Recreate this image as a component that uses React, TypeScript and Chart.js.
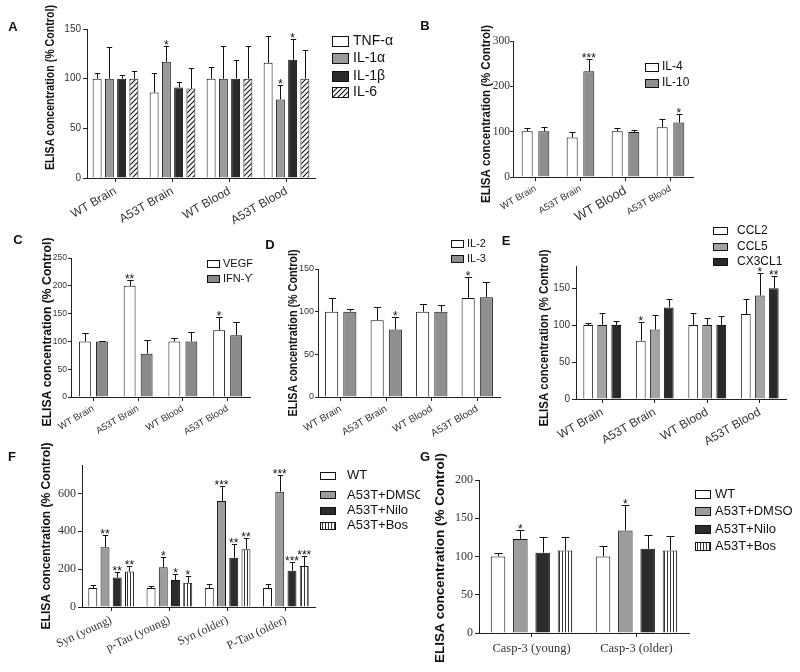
import React, { useEffect, useRef } from 'react';
import { Chart, registerables } from 'chart.js';

Chart.register(...registerables);

const SANS = '"Liberation Sans", Arial, Helvetica, sans-serif';
const SERIF = '"Liberation Serif", "Times New Roman", serif';
const AXIS = '#222222';
const TICK = '#333333';
const INK = '#111111';

// ---------- DATA ----------
const brainBloodLabels = ['WT Brain', 'A53T Brain', 'WT Blood', 'A53T Blood'];

// Panel A
const aTnf = [100, 86, 100, 116];
const aTnfSem = [6, 20, 12, 27];
const aTnfSig = ['', '', '', ''];
const aIl1a = [100, 117, 100, 79];
const aIl1aSem = [32, 16, 33, 15];
const aIl1aSig = ['', '*', '', '*'];
const aIl1b = [100, 91, 100, 119];
const aIl1bSem = [4, 6, 19, 21];
const aIl1bSig = ['', '', '', '*'];
const aIl6 = [100, 90, 100, 100];
const aIl6Sem = [8, 21, 33, 29];
const aIl6Sig = ['', '', '', ''];

// Panel B
const bIl4 = [101, 87, 101, 110];
const bIl4Sem = [7, 12, 6, 19];
const bIl4Sig = ['', '', '', ''];
const bIl10 = [101, 233, 99, 120];
const bIl10Sem = [9, 27, 5, 20];
const bIl10Sig = ['', '***', '', '*'];

// Panel C
const cVegf = [100, 200, 100, 120];
const cVegfSem = [16, 11, 7, 23];
const cVegfSig = ['', '**', '', '*'];
const cIfn = [100, 78, 100, 111];
const cIfnSem = [1.5, 24, 17, 24];
const cIfnSig = ['', '', '', ''];

// Panel D
const dIl2 = [100, 90, 100, 116];
const dIl2Sem = [16, 15, 9, 25];
const dIl2Sig = ['', '', '', '*'];
const dIl3 = [100, 79, 100, 117];
const dIl3Sem = [3, 15, 8, 18];
const dIl3Sig = ['', '*', '', ''];

// Panel E
const eCcl2 = [100, 79, 100, 115];
const eCcl2Sem = [3, 25, 17, 21];
const eCcl2Sig = ['', '*', '', ''];
const eCcl5 = [100, 94, 100, 140];
const eCcl5Sem = [16, 20, 9, 30];
const eCcl5Sig = ['', '', '', '*'];
const eCx3 = [100, 124, 100, 150];
const eCx3Sem = [6, 11, 12, 16];
const eCx3Sig = ['', '', '', '**'];

// Panel F
const fLabels = ['Syn (young)', 'p-Tau (young)', 'Syn (older)', 'P-Tau (older)'];
const fWt = [100, 100, 100, 100];
const fWtSem = [14, 9, 23, 23];
const fWtSig = ['', '', '', ''];
const fDmso = [316, 210, 560, 609];
const fDmsoSem = [66, 53, 78, 89];
const fDmsoSig = ['**', '*', '***', '***'];
const fNilo = [156, 142, 260, 191];
const fNiloSem = [28, 33, 71, 49];
const fNiloSig = ['**', '*', '**', '***'];
const fBos = [188, 128, 305, 217];
const fBosSem = [26, 35, 58, 53];
const fBosSig = ['**', '*', '**', '***'];

// Panel G
const gLabels = ['Casp-3 (young)', 'Casp-3 (older)'];
const gWt = [100, 100];
const gWtSem = [5, 14];
const gWtSig = ['', ''];
const gDmso = [123, 134];
const gDmsoSem = [11, 33];
const gDmsoSig = ['*', '*'];
const gNilo = [105, 110];
const gNiloSem = [21, 18];
const gNiloSig = ['', ''];
const gBos = [108, 108];
const gBosSem = [18, 19];
const gBosSig = ['', ''];

const yTitle = 'ELISA concentration (% Control)';

// ---------- PANEL CONFIGS ----------
type Series = { label: string; data: number[]; sem: number[]; sig: string[]; fill: string };
type PanelCfg = {
  id: string;
  left: number; top: number; w: number; h: number;
  area: { left: number; top: number; right: number; bottom: number };
  labels: string[];
  series: Series[];
  max: number; step: number;
  catPct: number; barPct: number; cap: number;
  rot: number;
  xFont: any; yFont: any; yPad: number; yTickLen: number;
  letter: { x: number; y: number };
  title: { x: number; y: number; len: number };
  legend: { boxX: number; boxW: number; boxH: number; textX: number; rows: number[]; size: number };
};

const panels: PanelCfg[] = [
  {
    id: 'A', left: 0, top: 0, w: 400, h: 230,
    area: { left: 87, top: 29, right: 315, bottom: 178 },
    labels: brainBloodLabels,
    series: [
      { label: 'TNF-α', data: aTnf, sem: aTnfSem, sig: aTnfSig, fill: '#ffffff' },
      { label: 'IL-1α', data: aIl1a, sem: aIl1aSem, sig: aIl1aSig, fill: '#9b9b9b' },
      { label: 'IL-1β', data: aIl1b, sem: aIl1bSem, sig: aIl1bSig, fill: '#2a2a2a' },
      { label: 'IL-6', data: aIl6, sem: aIl6Sem, sig: aIl6Sig, fill: 'hatch' },
    ],
    max: 150, step: 50, catPct: 0.86, barPct: 0.73, cap: 0.6, rot: 30,
    xFont: { size: 12, family: SANS }, yFont: { size: 10, family: SANS }, yPad: 2, yTickLen: 4,
    letter: { x: 13, y: 27 },
    title: { x: 50, y: 87.5, len: 165 },
    legend: { boxX: 332, boxW: 16, boxH: 10, textX: 353, rows: [40.5, 58, 75.5, 92], size: 14 },
  },
  {
    id: 'B', left: 400, top: 0, w: 400, h: 230,
    area: { left: 513, top: 41, right: 693, bottom: 177 },
    labels: brainBloodLabels,
    series: [
      { label: 'IL-4', data: bIl4, sem: bIl4Sem, sig: bIl4Sig, fill: '#ffffff' },
      { label: 'IL-10', data: bIl10, sem: bIl10Sem, sig: bIl10Sig, fill: '#8e8e8e' },
    ],
    max: 300, step: 100, catPct: 0.74, barPct: 0.66, cap: 0.55, rot: 30,
    xFont: (c: any) => (c.index === 2 ? { size: 13, family: SANS } : { size: 9.5, family: SANS }),
    yFont: { size: 11.5, family: SERIF }, yPad: 0, yTickLen: 3,
    letter: { x: 425, y: 26 },
    title: { x: 486, y: 114, len: 178 },
    legend: { boxX: 645, boxW: 13, boxH: 8, textX: 662, rows: [66.5, 82.5], size: 12 },
  },
  {
    id: 'C', left: 0, top: 230, w: 260, h: 220,
    area: { left: 71, top: 258, right: 250, bottom: 397 },
    labels: brainBloodLabels,
    series: [
      { label: 'VEGF', data: cVegf, sem: cVegfSem, sig: cVegfSig, fill: '#ffffff' },
      { label: 'IFN-ϒ', data: cIfn, sem: cIfnSem, sig: cIfnSig, fill: '#8a8a8a' },
    ],
    max: 250, step: 50, catPct: 0.76, barPct: 0.7, cap: 0.55, rot: 30,
    xFont: { size: 9.5, family: SANS }, yFont: { size: 8.5, family: SANS }, yPad: 1, yTickLen: 3,
    letter: { x: 18, y: 240 },
    title: { x: 47, y: 332, len: 189 },
    legend: { boxX: 207, boxW: 12, boxH: 7, textX: 223, rows: [263, 278], size: 11 },
  },
  {
    id: 'D', left: 260, top: 230, w: 250, h: 220,
    area: { left: 318, top: 269, right: 500, bottom: 397 },
    labels: brainBloodLabels,
    series: [
      { label: 'IL-2', data: dIl2, sem: dIl2Sem, sig: dIl2Sig, fill: '#ffffff' },
      { label: 'IL-3', data: dIl3, sem: dIl3Sem, sig: dIl3Sig, fill: '#8f8f8f' },
    ],
    max: 150, step: 50, catPct: 0.8, barPct: 0.72, cap: 0.55, rot: 30,
    xFont: { size: 10, family: SANS }, yFont: { size: 9, family: SANS }, yPad: 1, yTickLen: 3,
    letter: { x: 270, y: 245 },
    title: { x: 293, y: 333, len: 167 },
    legend: { boxX: 451, boxW: 12, boxH: 7, textX: 467, rows: [243, 258], size: 11 },
  },
  {
    id: 'E', left: 500, top: 222, w: 300, h: 228,
    area: { left: 576, top: 266, right: 786, bottom: 399 },
    labels: brainBloodLabels,
    series: [
      { label: 'CCL2', data: eCcl2, sem: eCcl2Sem, sig: eCcl2Sig, fill: '#ffffff' },
      { label: 'CCL5', data: eCcl5, sem: eCcl5Sem, sig: eCcl5Sig, fill: '#a3a3a3' },
      { label: 'CX3CL1', data: eCx3, sem: eCx3Sem, sig: eCx3Sig, fill: '#2a2a2a' },
    ],
    max: 180, step: 50, catPct: 0.8, barPct: 0.7, cap: 0.6, rot: 30,
    xFont: { size: 12, family: SANS }, yFont: { size: 10, family: SANS }, yPad: 2, yTickLen: 4,
    letter: { x: 506, y: 241 },
    title: { x: 544, y: 338, len: 177 },
    legend: { boxX: 713, boxW: 14, boxH: 7, textX: 737, rows: [230, 246, 261], size: 12 },
  },
  {
    id: 'F', left: 0, top: 440, w: 420, h: 232,
    area: { left: 82, top: 465, right: 315, bottom: 607 },
    labels: fLabels,
    series: [
      { label: 'WT', data: fWt, sem: fWtSem, sig: fWtSig, fill: '#ffffff' },
      { label: 'A53T+DMSO', data: fDmso, sem: fDmsoSem, sig: fDmsoSig, fill: '#9c9c9c' },
      { label: 'A53T+Nilo', data: fNilo, sem: fNiloSem, sig: fNiloSig, fill: '#2c2c2c' },
      { label: 'A53T+Bos', data: fBos, sem: fBosSem, sig: fBosSig, fill: 'stripes' },
    ],
    max: 750, step: 200, catPct: 0.84, barPct: 0.73, cap: 0.6, rot: 25,
    xFont: { size: 12, family: SERIF }, yFont: { size: 12, family: SERIF }, yPad: 2, yTickLen: 4,
    letter: { x: 12, y: 457 },
    title: { x: 46, y: 536, len: 187 },
    legend: { boxX: 320, boxW: 15, boxH: 7, textX: 347, rows: [475, 494.5, 510, 525], size: 13 },
  },
  {
    id: 'G', left: 420, top: 440, w: 380, h: 232,
    area: { left: 479, top: 480, right: 689, bottom: 633 },
    labels: gLabels,
    series: [
      { label: 'WT', data: gWt, sem: gWtSem, sig: gWtSig, fill: '#ffffff' },
      { label: 'A53T+DMSO', data: gDmso, sem: gDmsoSem, sig: gDmsoSig, fill: '#9c9c9c' },
      { label: 'A53T+Nilo', data: gNilo, sem: gNiloSem, sig: gNiloSig, fill: '#2c2c2c' },
      { label: 'A53T+Bos', data: gBos, sem: gBosSem, sig: gBosSig, fill: 'stripes' },
    ],
    max: 200, step: 50, catPct: 0.85, barPct: 0.65, cap: 0.55, rot: 0,
    xFont: { size: 12.5, family: SERIF }, yFont: { size: 12, family: SERIF }, yPad: 2, yTickLen: 4,
    letter: { x: 425, y: 457 },
    title: { x: 440, y: 558, len: 210 },
    legend: { boxX: 695, boxW: 15, boxH: 8, textX: 715, rows: [493.5, 511, 528.5, 545.5], size: 13 },
  },
];

// ---------- HELPERS ----------
function makeHatch(ctx: CanvasRenderingContext2D) {
  const c = document.createElement('canvas');
  c.width = 5; c.height = 5;
  const g = c.getContext('2d')!;
  g.fillStyle = '#ffffff';
  g.fillRect(0, 0, 5, 5);
  g.strokeStyle = '#111111';
  g.lineWidth = 1.1;
  g.beginPath();
  g.moveTo(-1, 6); g.lineTo(6, -1);
  g.moveTo(-1, 1); g.lineTo(1, -1);
  g.moveTo(4, 6); g.lineTo(6, 4);
  g.stroke();
  return ctx.createPattern(c, 'repeat')!;
}

function makeStripes(ctx: CanvasRenderingContext2D) {
  const c = document.createElement('canvas');
  c.width = 3; c.height = 4;
  const g = c.getContext('2d')!;
  g.fillStyle = '#ffffff';
  g.fillRect(0, 0, 3, 4);
  g.fillStyle = '#333333';
  g.fillRect(1, 0, 1, 4);
  return ctx.createPattern(c, 'repeat')!;
}

function resolveFill(ctx: CanvasRenderingContext2D, f: string): any {
  if (f === 'hatch') return makeHatch(ctx);
  if (f === 'stripes') return makeStripes(ctx);
  return f;
}

function extrasPlugin(p: PanelCfg, fills: any[]) {
  return {
    id: 'extras' + p.id,
    afterDatasetsDraw(chart: any) {
      const ctx: CanvasRenderingContext2D = chart.ctx;
      const ys = chart.scales.y;
      ctx.save();
      ctx.strokeStyle = INK;
      ctx.lineWidth = 1;
      p.series.forEach((s, i) => {
        const meta = chart.getDatasetMeta(i);
        meta.data.forEach((el: any, j: number) => {
          const pr = el.getProps(['x', 'y', 'width'], true);
          const topPx = Math.round(ys.getPixelForValue(s.data[j] + s.sem[j])) + 0.5;
          const x = Math.round(pr.x) + 0.5;
          const cw = (pr.width * p.cap) / 2;
          ctx.beginPath();
          ctx.moveTo(x, pr.y);
          ctx.lineTo(x, topPx);
          ctx.moveTo(x - cw, topPx);
          ctx.lineTo(x + cw, topPx);
          ctx.stroke();
          const sig = s.sig[j];
          if (sig) {
            const fs = 12;
            ctx.font = `${fs}px ${SANS}`;
            ctx.fillStyle = INK;
            ctx.textAlign = 'center';
            ctx.textBaseline = 'alphabetic';
            ctx.fillText(sig, pr.x, topPx - 4.5 + 0.58 * fs);
          }
        });
      });
      ctx.restore();
    },
    afterDraw(chart: any) {
      const ctx: CanvasRenderingContext2D = chart.ctx;
      const ox = p.left;
      const oy = p.top;
      ctx.save();
      // panel letter
      ctx.fillStyle = INK;
      ctx.font = `bold 13px ${SANS}`;
      ctx.textAlign = 'center';
      ctx.textBaseline = 'middle';
      ctx.fillText(p.id, p.letter.x - ox, p.letter.y - oy);
      // y title (condensed, rotated)
      ctx.save();
      ctx.translate(p.title.x - ox, p.title.y - oy);
      ctx.rotate(-Math.PI / 2);
      ctx.font = `bold 13px ${SANS}`;
      const tw = ctx.measureText(yTitle).width;
      ctx.scale(p.title.len / tw, 1);
      ctx.textAlign = 'center';
      ctx.textBaseline = 'middle';
      ctx.fillStyle = INK;
      ctx.fillText(yTitle, 0, 0);
      ctx.restore();
      // legend
      const lg = p.legend;
      p.series.forEach((s, i) => {
        const cy = lg.rows[i] - oy;
        const bx = lg.boxX - ox;
        const by = Math.round(cy - lg.boxH / 2) + 0.5;
        ctx.fillStyle = fills[i];
        ctx.fillRect(bx + 0.5, by, lg.boxW, lg.boxH);
        ctx.strokeStyle = INK;
        ctx.lineWidth = 1;
        ctx.strokeRect(bx + 0.5, by, lg.boxW, lg.boxH);
        ctx.fillStyle = INK;
        ctx.font = `${lg.size}px ${SANS}`;
        ctx.textAlign = 'left';
        ctx.textBaseline = 'middle';
        ctx.fillText(s.label, lg.textX - ox, cy + 0.5);
      });
      ctx.restore();
    },
  };
}

function Panel({ p }: { p: PanelCfg }) {
  const ref = useRef<HTMLCanvasElement | null>(null);
  useEffect(() => {
    const canvas = ref.current!;
    const ctx = canvas.getContext('2d')!;
    const fills = p.series.map((s) => resolveFill(ctx, s.fill));
    const yWidth = p.area.left - p.left;
    const padTop = p.area.top - p.top;
    const padRight = p.left + p.w - p.area.right;
    const xHeight = p.top + p.h - p.area.bottom;
    const chart = new Chart(canvas, {
      type: 'bar',
      data: {
        labels: p.labels,
        datasets: p.series.map((s, i) => ({
          label: s.label,
          data: s.data,
          backgroundColor: fills[i],
          borderColor: INK,
          borderWidth: 1,
          categoryPercentage: p.catPct,
          barPercentage: p.barPct,
        })),
      },
      options: {
        responsive: false,
        animation: false,
        devicePixelRatio: 1,
        events: [],
        layout: { padding: { top: padTop, right: padRight, left: 0, bottom: 0 } },
        plugins: {
          legend: { display: false },
          tooltip: { enabled: false },
          title: { display: false },
        },
        scales: {
          x: {
            type: 'category',
            offset: true,
            grid: {
              display: true,
              drawOnChartArea: false,
              drawTicks: true,
              tickLength: 4,
              offset: false,
              color: AXIS,
            },
            border: { display: true, color: AXIS, width: 1 },
            ticks: {
              autoSkip: false,
              minRotation: p.rot,
              maxRotation: p.rot,
              padding: p.rot === 0 ? 4 : 2,
              color: TICK,
              font: p.xFont,
            },
            afterFit: (s: any) => {
              s.height = xHeight;
            },
          },
          y: {
            type: 'linear',
            min: 0,
            max: p.max,
            grid: {
              display: true,
              drawOnChartArea: false,
              drawTicks: true,
              tickLength: p.yTickLen,
              color: AXIS,
            },
            border: { display: true, color: AXIS, width: 1 },
            ticks: {
              stepSize: p.step,
              includeBounds: false,
              padding: p.yPad,
              color: TICK,
              font: p.yFont,
            },
            afterFit: (s: any) => {
              s.width = yWidth;
            },
          },
        },
      } as any,
      plugins: [extrasPlugin(p, fills)],
    });
    return () => chart.destroy();
  }, [p]);
  return (
    <canvas
      ref={ref}
      width={p.w}
      height={p.h}
      style={{ position: 'absolute', left: p.left, top: p.top, width: p.w, height: p.h }}
    />
  );
}

export default function App() {
  return (
    <div
      style={{
        position: 'absolute',
        left: 0,
        top: 0,
        width: 800,
        height: 672,
        background: '#ffffff',
        overflow: 'hidden',
      }}
    >
      {panels.map((p) => (
        <Panel key={p.id} p={p} />
      ))}
    </div>
  );
}
